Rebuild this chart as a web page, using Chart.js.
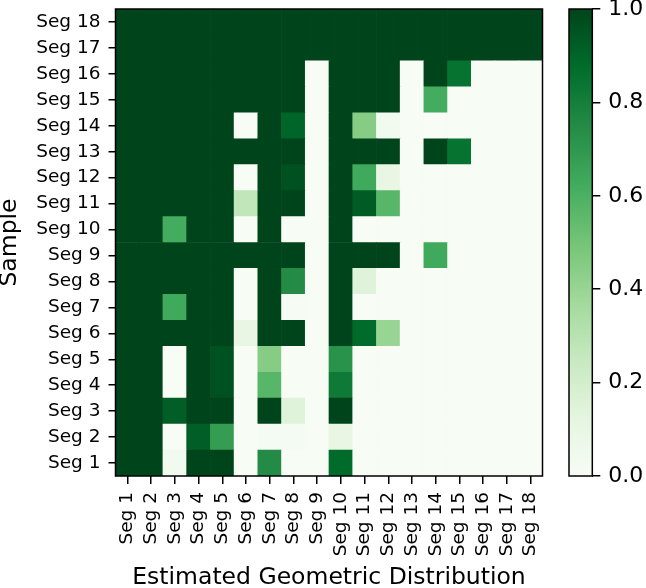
<!DOCTYPE html>
<html>
<head>
<meta charset="utf-8">
<script src="https://cdn.jsdelivr.net/npm/chart.js@4.4.1/dist/chart.umd.min.js"></script>
<style>
  html, body { margin: 0; padding: 0; background: #fff; }
  canvas { display: block; }
</style>
</head>
<body>
<canvas id="heat" width="646" height="588"></canvas>
<script>
// categories (both axes)
const segLabels = ["Seg 1", "Seg 2", "Seg 3", "Seg 4", "Seg 5", "Seg 6", "Seg 7", "Seg 8", "Seg 9",
  "Seg 10", "Seg 11", "Seg 12", "Seg 13", "Seg 14", "Seg 15", "Seg 16", "Seg 17", "Seg 18"];

// one row per sample, values per estimated segment (0..1)
const seg1  = [1, 1, 0.04, 1, 1, 0, 0.75, 0, 0, 0.88, 0, 0, 0, 0, 0, 0, 0, 0];
const seg2  = [1, 1, 0, 0.92, 0.68, 0, 0.02, 0.02, 0, 0.1, 0, 0, 0, 0, 0, 0, 0, 0];
const seg3  = [1, 1, 0.92, 1, 1, 0, 1, 0.15, 0, 1, 0, 0, 0, 0, 0, 0, 0, 0];
const seg4  = [1, 1, 0, 1, 0.96, 0, 0.57, 0, 0, 0.82, 0, 0, 0, 0, 0, 0, 0, 0];
const seg5  = [1, 1, 0, 1, 0.96, 0, 0.45, 0, 0, 0.72, 0, 0, 0, 0, 0, 0, 0, 0];
const seg6  = [1, 1, 1, 1, 1, 0.1, 1, 1, 0, 1, 0.88, 0.4, 0, 0, 0, 0, 0, 0];
const seg7  = [1, 1, 0.63, 1, 1, 0, 1, 0.01, 0, 1, 0, 0, 0, 0, 0, 0, 0, 0];
const seg8  = [1, 1, 1, 1, 1, 0, 1, 0.75, 0, 1, 0.15, 0, 0, 0, 0, 0, 0, 0];
const seg9  = [1, 1, 1, 1, 1, 1, 1, 1, 0, 1, 1, 1, 0, 0.63, 0, 0, 0, 0];
const seg10 = [1, 1, 0.62, 1, 1, 0, 1, 0, 0, 1, 0, 0, 0, 0, 0, 0, 0, 0];
const seg11 = [1, 1, 1, 1, 1, 0.27, 1, 1, 0, 1, 0.93, 0.57, 0, 0, 0, 0, 0, 0];
const seg12 = [1, 1, 1, 1, 1, 0, 1, 0.96, 0, 1, 0.63, 0.1, 0, 0, 0, 0, 0, 0];
const seg13 = [1, 1, 1, 1, 1, 1, 1, 1, 0, 1, 1, 1, 0, 1, 0.85, 0, 0, 0];
const seg14 = [1, 1, 1, 1, 1, 0, 1, 0.9, 0, 1, 0.45, 0.04, 0, 0, 0, 0, 0, 0];
const seg15 = [1, 1, 1, 1, 1, 1, 1, 1, 0, 1, 1, 1, 0, 0.62, 0, 0, 0, 0];
const seg16 = [1, 1, 1, 1, 1, 1, 1, 1, 0, 1, 1, 1, 0, 1, 0.85, 0, 0, 0];
const seg17 = [1, 1, 1, 1, 1, 1, 1, 1, 1, 1, 1, 1, 1, 1, 1, 1, 1, 1];
const seg18 = [1, 1, 1, 1, 1, 1, 1, 1, 1, 1, 1, 1, 1, 1, 1, 1, 1, 1];

const rows = [seg1, seg2, seg3, seg4, seg5, seg6, seg7, seg8, seg9,
  seg10, seg11, seg12, seg13, seg14, seg15, seg16, seg17, seg18];

// colorbar ticks
const cbTicks = [0, 0.2, 0.4, 0.6, 0.8, 1.0];

// matplotlib "Greens"
const greenStops = ["#f7fcf5", "#e5f5e0", "#c7e9c0", "#a1d99b", "#74c476",
  "#41ab5d", "#238b45", "#006d2c", "#00441b"];

function hexToRgb(h) {
  const n = parseInt(h.slice(1), 16);
  return [(n >> 16) & 255, (n >> 8) & 255, n & 255];
}

function greens(v) {
  const t = Math.min(Math.max(v, 0), 1) * (greenStops.length - 1);
  const i = Math.min(Math.floor(t), greenStops.length - 2);
  const f = t - i;
  const a = hexToRgb(greenStops[i]);
  const b = hexToRgb(greenStops[i + 1]);
  const c = a.map((x, k) => Math.round(x + (b[k] - x) * f));
  return `rgb(${c[0]},${c[1]},${c[2]})`;
}

Chart.defaults.font.family = "'DejaVu Sans', sans-serif";
Chart.defaults.color = "#000";

// each sample row is one stacked layer, each cell one bar segment
const datasets = rows.map((row, r) => ({
  label: segLabels[r],
  data: row.map(() => 1),
  backgroundColor: row.map((v) => greens(v)),
  borderWidth: 0,
  barPercentage: 1,
  categoryPercentage: 1,
}));

const framePlugin = {
  id: "frame",
  afterDraw(chart) {
    const { ctx, chartArea: a, scales } = chart;
    ctx.save();
    ctx.strokeStyle = "#000";
    ctx.lineWidth = 1.5;
    ctx.strokeRect(a.left, a.top, a.right - a.left, a.bottom - a.top);

    // colorbar, sitting just left of its own axis
    const cb = scales.cb;
    const x1 = cb.left;
    const x0 = x1 - 23.3;
    const y0 = cb.getPixelForValue(0);
    const y1 = cb.getPixelForValue(1);
    const grad = ctx.createLinearGradient(0, y0, 0, y1);
    greenStops.forEach((c, i) => grad.addColorStop(i / (greenStops.length - 1), c));
    ctx.fillStyle = grad;
    ctx.fillRect(x0, y1, x1 - x0, y0 - y1);
    ctx.strokeRect(x0, y1, x1 - x0, y0 - y1);
    ctx.restore();
  },
};

new Chart(document.getElementById("heat"), {
  type: "bar",
  data: { labels: segLabels, datasets },
  plugins: [framePlugin],
  options: {
    responsive: false,
    animation: false,
    layout: { padding: { top: 9, left: 0, right: 0, bottom: 0 } },
    plugins: { legend: { display: false }, tooltip: { enabled: false } },
    scales: {
      x: {
        type: "category",
        stacked: true,
        border: { display: false },
        grid: {
          display: true,
          drawOnChartArea: false,
          offset: false,
          color: "#000",
          lineWidth: 1.5,
          tickLength: 8,
        },
        ticks: {
          autoSkip: false,
          minRotation: 90,
          maxRotation: 90,
          padding: 8,
          font: { size: 18.5 },
        },
        title: {
          display: true,
          text: "Estimated Geometric Distribution",
          font: { size: 23.5, lineHeight: 0.85 },
          padding: { top: 0, bottom: 0 },
        },
        afterFit(s) {
          s.height = 112;
          s.paddingLeft = 0;
          s.paddingRight = 0;
        },
      },
      y: {
        type: "linear",
        stacked: true,
        min: 0,
        max: segLabels.length,
        border: { display: false },
        grid: {
          display: true,
          drawOnChartArea: false,
          color: "#000",
          lineWidth: 1.5,
          tickLength: 7,
        },
        afterBuildTicks(s) {
          s.ticks = segLabels.map((_, i) => ({ value: i + 0.5 }));
        },
        ticks: {
          padding: 8,
          font: { size: 18.5 },
          callback: (v, i) => segLabels[i],
        },
        title: {
          display: true,
          text: "Sample",
          font: { size: 23.5, lineHeight: 0.85 },
          padding: { top: 0, bottom: 0 },
        },
        afterFit(s) {
          s.width = 115.5;
          s.paddingTop = 0;
          s.paddingBottom = 0;
        },
      },
      spacer: {
        axis: "y",
        type: "linear",
        position: "right",
        weight: 0,
        border: { display: false },
        grid: { display: false },
        ticks: { display: false },
        afterFit(s) {
          s.width = 49.8;
          s.paddingTop = 0;
          s.paddingBottom = 0;
        },
      },
      cb: {
        axis: "y",
        type: "linear",
        position: "right",
        weight: 1,
        min: 0,
        max: 1,
        border: { display: false },
        grid: {
          display: true,
          drawOnChartArea: false,
          color: "#000",
          lineWidth: 1.5,
          tickLength: 8,
        },
        afterBuildTicks(s) {
          s.ticks = cbTicks.map((v) => ({ value: v }));
        },
        ticks: {
          padding: 8,
          font: { size: 22 },
          callback: (v) => Number(v).toFixed(1),
        },
        afterFit(s) {
          s.width = 53.7;
          s.paddingTop = 0;
          s.paddingBottom = 0;
        },
      },
    },
  },
});
</script>
</body>
</html>
